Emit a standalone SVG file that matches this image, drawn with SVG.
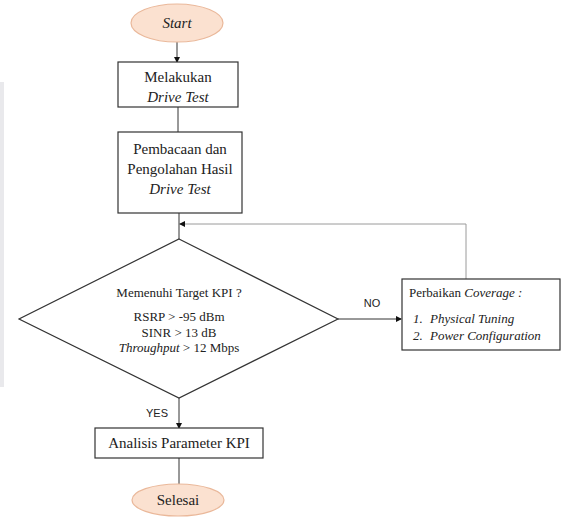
<svg xmlns="http://www.w3.org/2000/svg" width="565" height="521" viewBox="0 0 565 521">
<style>
.t{font-family:"Liberation Serif","Times New Roman",serif;font-size:15px;fill:#222;text-anchor:middle}
.s{font-size:13px}
.i{font-style:italic}
.box{fill:#fff;stroke:#333;stroke-width:1.2}
.term{fill:#fbe1d0;stroke:#eab89a;stroke-width:1.2}
.ln{fill:none;stroke:#333;stroke-width:1}
.lg{fill:none;stroke:#9a9a9a;stroke-width:1}
.lbl{font-family:"Liberation Sans",Arial,sans-serif;font-size:11px;fill:#222;text-anchor:middle}
</style>
<defs>
<marker id="ah" markerWidth="6" markerHeight="6" refX="5" refY="3" orient="auto" markerUnits="userSpaceOnUse">
<path d="M0,0 L6,3 L0,6 Z" fill="#111"/>
</marker>
</defs>
<rect x="0" y="82" width="4" height="305" fill="#e9e9ec"/>
<g id="connectors">
<line class="ln" x1="177" y1="42" x2="177" y2="62" marker-end="url(#ah)"/>
<line class="ln" x1="178" y1="107" x2="178" y2="132"/>
<line class="ln" x1="179" y1="213" x2="179" y2="239"/>
<polyline class="lg" points="466,279 466,224 180,224" marker-end="url(#ah)"/>
<line class="ln" x1="338" y1="319" x2="401" y2="319" marker-end="url(#ah)"/>
<line class="ln" x1="179" y1="398" x2="179" y2="428" marker-end="url(#ah)"/>
<line class="ln" x1="179" y1="458" x2="179" y2="484"/>
<text class="lbl" x="372" y="307">NO</text>
<text class="lbl" x="157" y="417">YES</text>
</g>
<g id="start">
<ellipse class="term" cx="177" cy="23" rx="46" ry="19"/>
<text class="t i" x="177" y="28">Start</text>
</g>
<g id="drive-test">
<rect class="box" x="118" y="62" width="120" height="45"/>
<text class="t" x="178" y="82">Melakukan</text>
<text class="t i" x="178" y="102">Drive Test</text>
</g>
<g id="pembacaan">
<rect class="box" x="118" y="132" width="124" height="81"/>
<text class="t" x="180" y="154">Pembacaan dan</text>
<text class="t" x="180" y="174">Pengolahan Hasil</text>
<text class="t i" x="180" y="194">Drive Test</text>
</g>
<g id="decision">
<polygon class="box" points="179,239 338,319 179,398 19,319"/>
<text class="t s" x="179" y="297">Memenuhi Target KPI ?</text>
<text class="t s" x="179" y="321">RSRP &gt; -95 dBm</text>
<text class="t s" x="179" y="337">SINR &gt; 13 dB</text>
<text class="t s" x="179" y="352"><tspan class="i">Throughput</tspan> &gt; 12 Mbps</text>
</g>
<g id="perbaikan">
<rect class="box" x="402" y="279" width="158" height="71"/>
<text class="t s" x="409" y="297" text-anchor="start" style="text-anchor:start">Perbaikan <tspan class="i">Coverage :</tspan></text>
<text class="t s i" x="413" y="323" style="text-anchor:start">1.</text>
<text class="t s i" x="430" y="323" style="text-anchor:start">Physical Tuning</text>
<text class="t s i" x="413" y="340" style="text-anchor:start">2.</text>
<text class="t s i" x="430" y="340" style="text-anchor:start">Power Configuration</text>
</g>
<g id="analisis">
<rect class="box" x="95" y="428" width="168" height="30"/>
<text class="t" x="179" y="448">Analisis Parameter KPI</text>
</g>
<g id="selesai">
<ellipse class="term" cx="178" cy="500" rx="46" ry="16"/>
<text class="t" x="178" y="505">Selesai</text>
</g>
</svg>
